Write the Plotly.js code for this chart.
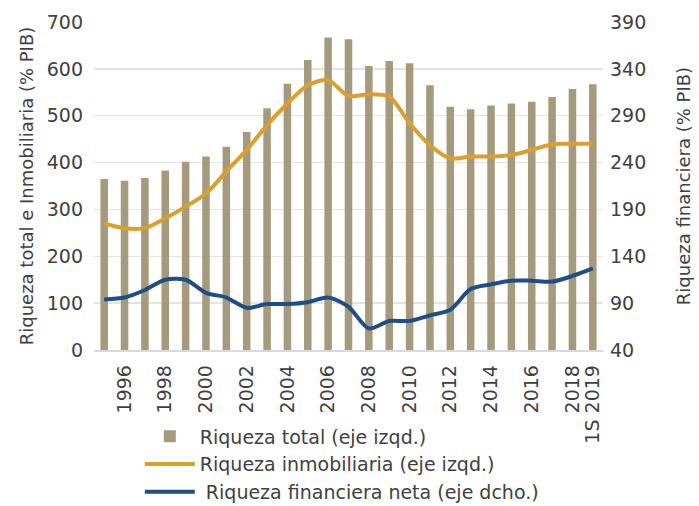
<!DOCTYPE html>
<html><head><meta charset="utf-8">
<script src="https://cdn.plot.ly/plotly-3.0.1.min.js"></script>
<style>html,body{margin:0;padding:0;background:#fff}#chart{width:699px;height:506px}</style>
</head><body><div id="chart"></div>
<script>
const categories = ['1995','1996','1997','1998','1999','2000','2001','2002','2003','2004','2005','2006','2007','2008','2009','2010','2011','2012','2013','2014','2015','2016','2017','2018','1S 2019'];
const tickCategories = ['1996','1998','2000','2002','2004','2006','2008','2010','2012','2014','2016','2018','1S 2019'];
const riquezaTotal = [365,361,367,383,402,413,434,465,516,568,619,667,663,606,617,612,565,519,514,522,526,530,540,557,567];
const riquezaInmobiliaria = [270,260,260,281,306,334,381,427,480,526,565,576,542,546,541,484,437,409,413,413,416,427,439,440,440];
const riquezaFinanciera = [94,96,104,115,115,101,96,85,89,89,91,96,86,63,71,71,77,83,105,110,114,114,113,119,127];

const font = {family: 'DejaVu Sans, sans-serif', color: '#404040', size: 18};

const traces = [
  {type:'bar', x:categories, y:riquezaTotal, name:'Riqueza total (eje izqd.)', marker:{color:'#a59b7c'}, yaxis:'y'},
  {type:'scatter', mode:'lines', x:categories, y:riquezaInmobiliaria, name:'Riqueza inmobiliaria (eje izqd.)', line:{color:'#dca02a', width:4, shape:'spline', smoothing:0.8}, yaxis:'y'},
  {type:'scatter', mode:'lines', x:categories, y:riquezaFinanciera, name:' Riqueza financiera neta (eje dcho.)', line:{color:'#1f4e86', width:4, shape:'spline', smoothing:0.8}, yaxis:'y2'}
];

const layout = {
  width:699, height:506,
  margin:{l:94, r:96, t:22, b:156},
  paper_bgcolor:'#fff', plot_bgcolor:'#fff',
  font: font,
  bargap:0.63,
  showlegend:true,
  legend:{x:0.09, xanchor:'left', yref:'container', y:0.175, yanchor:'top', orientation:'v', font:{family:font.family, color:'#404040', size:19}, itemwidth:50, tracegroupgap:2, bgcolor:'rgba(0,0,0,0)'},
  xaxis:{type:'category', automargin:false, tickmode:'array', tickvals:tickCategories, ticktext:tickCategories, tickangle:-90, showgrid:false, showline:true, linecolor:'#d9d9d9', linewidth:1.5, ticks:'', tickfont:{size:19}, ticklabelstandoff:6},
  yaxis:{range:[0,700], automargin:false, dtick:100, tick0:0, showgrid:true, gridcolor:'#e3e3e3', gridwidth:1.5, zeroline:false, ticks:'', tickfont:{size:19}, ticklabelstandoff:10,
         title:{text:'Riqueza total e Inmobiliaria (% PIB)', font:{size:18}, standoff:8}},
  yaxis2:{range:[40,390], automargin:false, dtick:50, tick0:40, overlaying:'y', side:'right', showgrid:false, zeroline:false, ticks:'', tickfont:{size:19}, ticklabelstandoff:6,
          title:{text:'Riqueza financiera (% PIB)', font:{size:18}, standoff:32}}
};

Plotly.newPlot('chart', traces, layout, {displayModeBar:false, staticPlot:true});
</script></body></html>
